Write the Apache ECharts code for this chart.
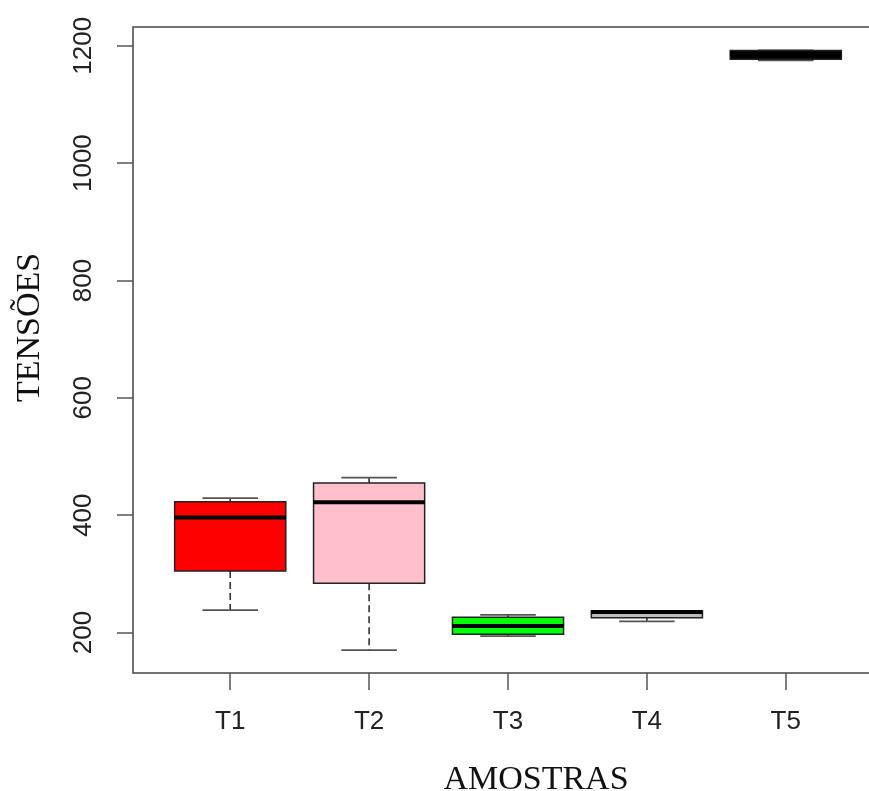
<!DOCTYPE html>
<html>
<head>
<meta charset="utf-8">
<script src="https://cdn.jsdelivr.net/npm/echarts@6/dist/echarts.min.js"></script>
<style>
html,body{margin:0;padding:0;background:#fff;}
#chart{width:869px;height:791px;}
</style>
</head>
<body>
<div id="chart"></div>
<script>
// Data
const categories = ['T1', 'T2', 'T3', 'T4', 'T5'];
const lowerWhisker = [238, 170, 194, 219, 1175];
const q1Values = [305, 284, 197, 225, 1177];
const medianValues = [396, 422, 211, 235, 1186];
const q3Values = [423, 455, 226, 237, 1192];
const upperWhisker = [429, 464, 230, 237, 1192];
const boxColors = ['#ff0000', '#ffc0cb', '#00ff00', '#bebebe', '#000000'];
const yTickValues = [200, 400, 600, 800, 1000, 1200];
const xTickValues = [1, 2, 3, 4, 5];

const seriesData = categories.map((c, i) => [i + 1, lowerWhisker[i], q1Values[i], medianValues[i], q3Values[i], upperWhisker[i]]);

const chart = echarts.init(document.getElementById('chart'), null, {renderer: 'canvas'});

const lineCol = '#333';
const option = {
  backgroundColor: '#fff',
  animation: false,
  grid: {
    left: 133, top: 27, right: -14, bottom: 118,
    outerBoundsMode: 'none',
    containLabel: false,
    show: true, borderColor: '#444', borderWidth: 1.5, backgroundColor: 'transparent'
  },
  xAxis: {
    type: 'value',
    min: 0.3, max: 5.7,
    name: 'AMOSTRAS',
    nameLocation: 'middle',
    nameGap: 90,
    nameTextStyle: {fontFamily: 'Liberation Serif', fontSize: 34, color: '#111', padding: [0, 0, 0, 56]},
    axisLine: {show: false},
    splitLine: {show: false},
    axisTick: {show: true, length: 17, customValues: xTickValues, lineStyle: {color: '#555', width: 1.5}},
    axisLabel: {
      customValues: xTickValues,
      margin: 36,
      fontFamily: 'Liberation Sans', fontSize: 26, color: '#222',
      formatter: v => categories[Math.round(v) - 1] || ''
    }
  },
  yAxis: {
    type: 'value',
    min: 131, max: 1232,
    name: 'TENSÕES',
    nameLocation: 'middle',
    nameGap: 86,
    nameRotate: 90,
    nameTextStyle: {fontFamily: 'Liberation Serif', fontSize: 34, color: '#111', padding: [0, 0, 0, 45]},
    axisLine: {show: false},
    splitLine: {show: false},
    axisTick: {show: true, length: 16, customValues: yTickValues, lineStyle: {color: '#555', width: 1.5}},
    axisLabel: {
      customValues: yTickValues,
      rotate: 90,
      margin: 36,
      fontFamily: 'Liberation Sans', fontSize: 26, color: '#222',
      formatter: v => String(Math.round(v))
    }
  },
  series: [{
    type: 'custom',
    data: seriesData,
    encode: {x: 0, y: [1, 2, 3, 4, 5]},
    clip: true,
    renderItem: function (params, api) {
      const x = api.value(0);
      const lo = api.value(1), q1 = api.value(2), med = api.value(3), q3 = api.value(4), hi = api.value(5);
      const c = (u, v) => api.coord([u, v]);
      const hw = 0.4, sw = 0.2;
      const ctr = c(x, med);
      const pLo = c(x, lo), pQ1 = c(x, q1), pQ3 = c(x, q3), pHi = c(x, hi);
      const bl = c(x - hw, q3), br = c(x + hw, q1);
      const sl = c(x - sw, lo)[0], sr = c(x + sw, lo)[0];
      const children = [];
      children.push({type: 'line', shape: {x1: pQ3[0], y1: pQ3[1], x2: pHi[0], y2: pHi[1]},
        style: {stroke: lineCol, lineWidth: 1.6, lineDash: [7, 4]}});
      children.push({type: 'line', shape: {x1: pQ1[0], y1: pQ1[1], x2: pLo[0], y2: pLo[1]},
        style: {stroke: lineCol, lineWidth: 1.6, lineDash: [7, 4]}});
      children.push({type: 'line', shape: {x1: sl, y1: pHi[1], x2: sr, y2: pHi[1]},
        style: {stroke: '#555', lineWidth: 1.8}});
      children.push({type: 'line', shape: {x1: sl, y1: pLo[1], x2: sr, y2: pLo[1]},
        style: {stroke: '#555', lineWidth: 1.8}});
      children.push({type: 'rect', shape: {x: bl[0], y: bl[1], width: br[0] - bl[0], height: br[1] - bl[1]},
        style: {fill: boxColors[params.dataIndex], stroke: '#222', lineWidth: 1.5}});
      children.push({type: 'line', shape: {x1: bl[0], y1: ctr[1], x2: br[0], y2: ctr[1]},
        style: {stroke: '#000', lineWidth: 4}});
      return {type: 'group', children: children};
    }
  }]
};
chart.setOption(option);
</script>
</body>
</html>
